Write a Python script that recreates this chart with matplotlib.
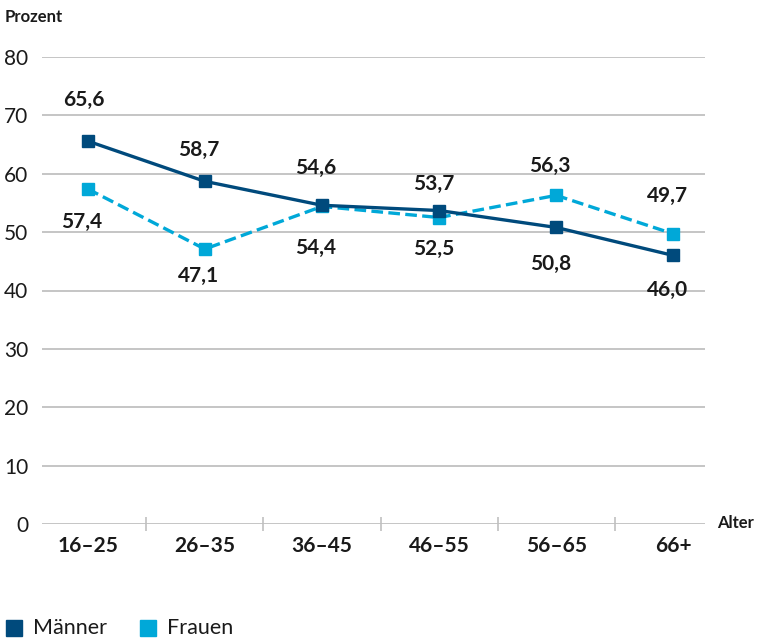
import matplotlib
matplotlib.use("Agg")
import matplotlib.pyplot as plt
from matplotlib.patches import Rectangle

categories = ["16–25", "26–35", "36–45", "46–55", "56–65", "66+"]
maenner = [65.6, 58.7, 54.6, 53.7, 50.8, 46.0]
frauen = [57.4, 47.1, 54.4, 52.5, 56.3, 49.7]
y_ticks = [0, 10, 20, 30, 40, 50, 60, 70, 80]

dark = "#004a7c"
light = "#00a8d8"
grid_c = "#c0c0c0"
txt = "#1a1a1a"
plt.rcParams['font.family'] = ['Lato', 'DejaVu Sans']

fig = plt.figure(figsize=(7.63, 6.41), dpi=100)
ax = fig.add_axes([42/763, 1-524/641, (705-42)/763, (524-57)/641])

x = list(range(len(categories)))
ax.plot(x, frauen, color=light, lw=2.4, ls=(0, (3.5, 1.6)), marker='s', ms=8.2, zorder=3)
ax.plot(x, maenner, color=dark, lw=2.4, marker='s', ms=8.2, zorder=4)

ax.set_ylim(0, 80)
ax.set_xlim(-0.39, 5.27)
ax.set_yticks(y_ticks)
ax.set_yticklabels([str(v) for v in y_ticks], fontsize=15, color=txt)
ax.tick_params(axis='y', length=0, pad=10)
ax.yaxis.grid(True, color=grid_c, lw=1.3)
ax.set_axisbelow(True)
for s in ax.spines.values():
    s.set_visible(False)

ax.set_xticks(x)
ax.set_xticklabels(categories, fontsize=15, fontweight='bold', color=txt)
ax.set_xticks([i + 0.5 for i in range(len(categories) - 1)], minor=True)
ax.tick_params(axis='x', which='major', length=0, pad=9)
ax.tick_params(axis='x', which='minor', length=10, direction='inout', color=grid_c, width=1.2)

m_off = [(-4, 41), (-6, 31), (-6, 37), (-5, 27), (-6, -37), (-6, -34)]
f_off = [(-6, -33), (-6, -27), (-6, -42), (-5, -31), (-6, 29), (-6, 38)]
for i, v in enumerate(maenner):
    ax.annotate(f"{v:.1f}".replace('.', ','), (i, v), xytext=(m_off[i][0]*0.72, m_off[i][1]*0.72),
                textcoords='offset points', ha='center', va='center', fontsize=15,
                fontweight='bold', color=txt)
for i, v in enumerate(frauen):
    ax.annotate(f"{v:.1f}".replace('.', ','), (i, v), xytext=(f_off[i][0]*0.72, f_off[i][1]*0.72),
                textcoords='offset points', ha='center', va='center', fontsize=15,
                fontweight='bold', color=txt)

fig.text(5/763, 1-17/641, "Prozent", fontsize=12, fontweight='bold', color=txt, va='center', ha='left')
fig.text(717/763, 1-523/641, "Alter", fontsize=12, fontweight='bold', color=txt, va='center', ha='left')

# legend
fig.patches.append(Rectangle((6/763, 1-636/641), 16/763, 16/641, transform=fig.transFigure, color=dark))
fig.text(33/763, 1-628/641, "Männer", fontsize=15.5, color=txt, va='center', ha='left')
fig.patches.append(Rectangle((140/763, 1-636/641), 16/763, 16/641, transform=fig.transFigure, color=light))
fig.text(167/763, 1-628/641, "Frauen", fontsize=15.5, color=txt, va='center', ha='left')

fig.savefig("out.png", dpi=100)
